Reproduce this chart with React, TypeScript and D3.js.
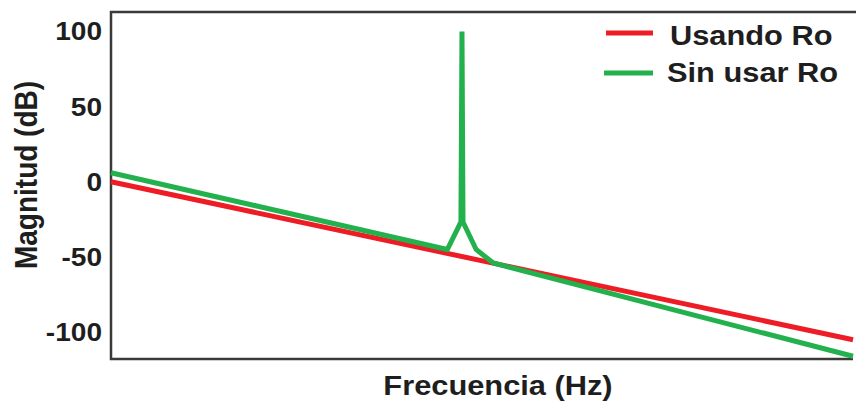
import React from "react";
import * as d3 from "d3";

// frequency (Hz, log axis) and magnitude (dB)
const redFreq = [1, 10000];
const redDb = [0, -105];

const greenFreq = [1, 65, 77, 78, 79, 93, 115, 10000];
const greenDb = [6, -45, -26.7, 100, -26.7, -45, -54, -116];

const yTicks = [100, 50, 0, -50, -100];
const legendLabels = ["Usando Ro", "Sin usar Ro"];
const colors = ["#ee1c25", "#22b14c"];

const W = 856;
const H = 405;
const left = 111;
const right = 853;
const top = 12;
const bottom = 359;
const FONT = "'Liberation Sans', Arial, sans-serif";
const SX = 1.1; // the source picture is stretched a bit horizontally

const Label = ({ x, y, size, anchor = "start", rotate = 0, children }) => (
  <text
    transform={`translate(${x},${y}) scale(${SX},1) rotate(${rotate})`}
    fontFamily={FONT}
    fontWeight="bold"
    fontSize={size}
    fill="#1e1e1e"
    textAnchor={anchor}
  >
    {children}
  </text>
);

export default function App() {
  const x = d3.scaleLog().domain([1, 10000]).range([left, right]);
  const y = d3.scaleLinear().domain([-117.8, 112.9]).range([bottom, top]);

  const line = d3
    .line<[number, number]>()
    .x((d) => x(d[0]))
    .y((d) => y(d[1]));

  const red = redFreq.map((f, i) => [f, redDb[i]] as [number, number]);
  const green = greenFreq.map((f, i) => [f, greenDb[i]] as [number, number]);

  return (
    <svg
      width={W}
      height={H}
      style={{ position: "absolute", left: 0, top: 0, background: "#fff" }}
    >
      {/* frame: left, top, bottom */}
      <path
        d={`M${W},${top}H${left}V${bottom}H${right}`}
        fill="none"
        stroke="#3a3a3a"
        strokeWidth={2.5}
      />

      {yTicks.map((t) => (
        <Label key={t} x={102} y={y(t) + 9} size={25.5} anchor="end">
          {t}
        </Label>
      ))}

      <path d={line(red)} fill="none" stroke={colors[0]} strokeWidth={5} />
      <path d={line(green)} fill="none" stroke={colors[1]} strokeWidth={5} />

      {/* legend */}
      {legendLabels.map((name, i) => (
        <g key={name}>
          <line
            x1={i === 0 ? 606 : 604}
            x2={653}
            y1={33 + i * 40}
            y2={33 + i * 40}
            stroke={colors[i]}
            strokeWidth={5}
          />
          <Label x={i === 0 ? 670 : 667} y={i === 0 ? 45 : 82} size={28}>
            {name}
          </Label>
        </g>
      ))}

      <Label x={498} y={395} size={28} anchor="middle">
        Frecuencia (Hz)
      </Label>
      <Label x={37} y={175} size={28} anchor="middle" rotate={-90}>
        Magnitud (dB)
      </Label>
    </svg>
  );
}
